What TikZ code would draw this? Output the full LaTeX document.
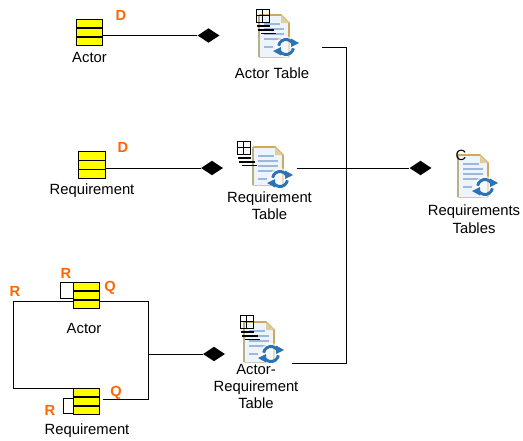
\documentclass[tikz,border=0pt]{standalone}
\usepackage{fontspec}
\setmainfont{Liberation Sans}
\usetikzlibrary{shapes.geometric,arrows.meta}
\definecolor{entorange}{HTML}{FF6600}
\definecolor{entyellow}{HTML}{FFFF00}
\definecolor{docgold}{HTML}{CFA95A}
\definecolor{docleft}{HTML}{B9B184}
\definecolor{docline}{HTML}{9DB8DC}
\definecolor{docfill}{HTML}{EEF4FB}
\definecolor{cycleblue}{HTML}{2A73B5}
\tikzset{
  x=0.75pt,y=-0.75pt,
  lbl/.style={font=\fontsize{11.1}{13}\selectfont,text=black,inner sep=0pt,align=center,text depth=0pt},
  tag/.style={font=\fontsize{11}{13}\selectfont\bfseries,text=entorange,inner sep=0pt},
  entity/.style={draw=black,line width=0.9pt,fill=entyellow,rectangle,inner sep=0pt,minimum width=20pt,minimum height=20pt,
    path picture={\draw[black,line width=0.9pt]
      ([yshift=3.4pt]path picture bounding box.west) -- ([yshift=3.4pt]path picture bounding box.east)
      ([yshift=-3.4pt]path picture bounding box.west) -- ([yshift=-3.4pt]path picture bounding box.east);}},
  agg/.style={diamond,fill=black,draw=none,inner sep=0pt,minimum width=16.5pt,minimum height=11pt},
  anchorbox/.style={rectangle,draw=none,inner sep=0pt},
  link/.style={draw=black,line width=0.75pt},
  pics/docicon/.style={code={
    \fill[docfill] (0,0) -- (22,0) -- (30,8) -- (30,#1) -- (0,#1) -- cycle;
    \draw[docgold,line width=1.3pt] (0,0) -- (22,0) -- (30,8) -- (30,#1);
    \fill[docgold!60] (22,0) -- (22,8) -- (30,8) -- cycle;
    \draw[docleft,line width=1.4pt] (0,0) -- (0,#1);
    \draw[docleft!70,line width=0.7pt] (0,#1) -- (30,#1);
    \draw[docline,line width=0.8pt] (5,9) -- (21,9) (5,14) -- (25,14) (5,19) -- (25,19) (5,24) -- (22,24) (5,32) -- (14,32);
    \begin{scope}[shift={(27,32)}]
      \fill[white,opacity=0.6] (0,0) circle (11);
      \draw[cycleblue,line width=2.2pt] (190:7.5) arc[start angle=190,end angle=325,radius=7.5];
      \draw[cycleblue,line width=2.2pt] (10:7.5) arc[start angle=10,end angle=145,radius=7.5];
      \fill[cycleblue] (5,-8.5) -- (5,0) -- (13,-4) -- cycle;
      \fill[cycleblue] (-5,8.5) -- (-5,0) -- (-13,4) -- cycle;
    \end{scope}
  }},
  pics/gridmark/.style={code={
    \draw[black,line width=0.75pt] (0,0) rectangle (13,13) (6.5,0) -- (6.5,13) (0,6.5) -- (13,6.5);
    \draw[black,line width=0.9pt] (1,17) -- (14,17) (2,21) -- (18,21) (5,24.5) -- (20,24.5);
  }},
}
\begin{document}
\begin{tikzpicture}
\useasboundingbox (0,0) rectangle (523,440);
\fill[white] (0,0) rectangle (523,440);

% entities
\node[entity] (actorA) at (89.5,32.5) {};
\node[entity] (reqA) at (92,165) {};
\node[entity] (actorB) at (86.5,295.5) {};
\node[entity] (reqB) at (86.5,401.5) {};

% aggregation diamonds
\node[agg] (d1) at (208.5,35.5) {};
\node[agg] (d2) at (212,168) {};
\node[agg] (d3) at (214,354) {};
\node[agg] (d4) at (420.5,168) {};

% icons
\pic at (259,15) {docicon=42};
\pic at (253,147) {docicon=38};
\pic at (244,322) {docicon=40};
\pic at (458,155) {docicon=42};
\pic at (256,9) {gridmark};
\pic at (237,141) {gridmark};
\pic at (240,315) {gridmark};

% invisible frames around the table icons: connectors end on their east sides
\node[anchorbox,minimum width=52.5pt,minimum height=30pt] (tA) at (287,47.5) {};
\node[anchorbox,minimum width=44pt,minimum height=30pt] (tR) at (267,168) {};
\node[anchorbox,minimum width=39pt,minimum height=30pt] (tAR) at (266,363.5) {};
\node[anchorbox,minimum width=3pt,minimum height=3pt] (junc) at (150,354) {};

% labels
\node[lbl] (l1) at (89.5,57) {Actor};
\node[lbl] (l2) at (92,189) {Requirement};
\node[lbl] (l3) at (84,328) {Actor};
\node[lbl] (l4) at (87,429) {Requirement};
\node[lbl] (l5) at (272,73) {Actor Table};
\node[lbl] (l6) at (269.5,205.5) {Requirement\\Table};
\node[lbl] (l7) at (256,386.5) {Actor-\\Requirement\\Table};
\node[lbl] (l8) at (474,219) {Requirements\\Tables};
\node[lbl] (cmark) at (461,155) {C};

% orange letters
\node[tag] (t1) at (121,15) {D};
\node[tag] (t2) at (123,147) {D};
\node[tag] (t3) at (66,273) {R};
\node[tag] (t4) at (15,291) {R};
\node[tag] (t5) at (110,288) {Q};
\node[tag] (t6) at (116,393) {Q};
\node[tag] (t7) at (50,410) {R};

% connectors
\draw[link] (actorA.east |- 0,35.5) -- (d1.west);
\draw[link] (reqA.east |- d2) -- (d2.west);
\draw[link] (junc.west) -- (d3.west);
\draw[link] (tR.east) -- (d4.west);
\draw[link] (tA.east) -- (346.5,47.5) -- (346.5,363.5) -- (tAR.east);

% relation between Actor and Requirement
\draw[link] (actorB.west |- 0,301.5) -- (13.5,301.5) -- (13.5,388.5) -- (actorB.west |- 0,388.5);
\draw[link] (actorB.east |- 0,301.5) -- (148.5,301.5) -- (148.5,399.5) -- (103,399.5);
% recursive relations
\draw[link] (actorB.west |- 0,282.5) -- (60.5,282.5) -- (60.5,298.5) -- (actorB.west |- 0,298.5);
\draw[link] (reqB.west |- 0,398.5) -- (63.5,398.5) -- (63.5,413.5) -- (reqB.west |- 0,413.5);
\end{tikzpicture}
\end{document}
